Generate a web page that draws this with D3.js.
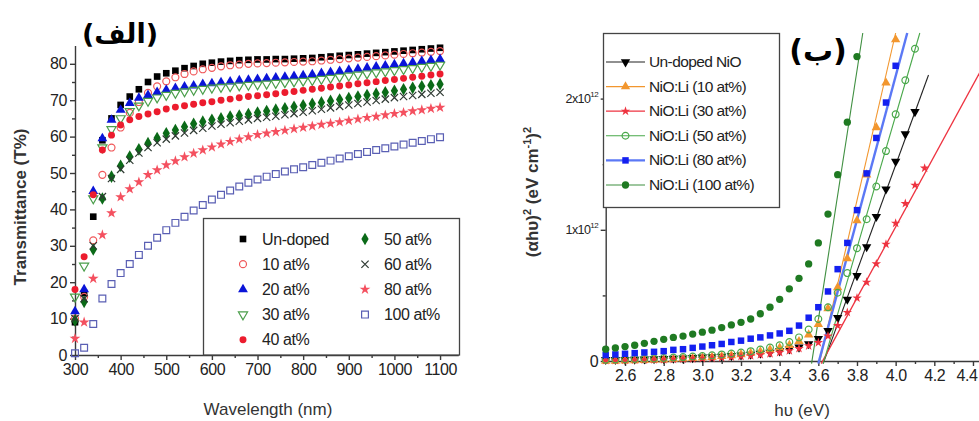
<!DOCTYPE html>
<html>
<head>
<meta charset="utf-8">
<script src="https://cdn.jsdelivr.net/npm/d3@7"></script>
<style>
    body { margin: 0; background: #fff; }
    svg { display: block; font-family: "Liberation Sans", Arial, sans-serif; }
</style>
</head>
<body>
<div id="chart"></div>
<script>
// ---------- panel (الف): transmittance vs wavelength ----------
var wavelength = [300, 320, 340, 360, 380, 400, 420, 440, 460, 480, 500, 520, 540, 560, 580, 600, 620, 640, 660, 680,
    700, 720, 740, 760, 780, 800, 820, 840, 860, 880, 900, 920, 940, 960, 980, 1000, 1020, 1040, 1060, 1080, 1100];
var tUndoped = [9, 17, 38, 59, 65, 68.7, 71, 73, 75, 76.5, 77.4, 78.1, 78.8, 79.4, 80, 80.3, 80.6, 80.8, 81, 81.1,
    81.2, 81.2, 81.3, 81.3, 81.4, 81.5, 81.6, 81.8, 82, 82.2, 82.4, 82.6, 82.8, 83, 83.2, 83.4, 83.6, 83.8, 84, 84.2, 84.4];
var t10 = [10, 16, 31.5, 49.5, 57, 62.5, 66.5, 69.5, 72, 73.8, 75.2, 76.3, 77.2, 77.9, 78.5, 78.9, 79.3, 79.6, 79.8, 80,
    80.1, 80.2, 80.3, 80.4, 80.5, 80.6, 80.7, 80.9, 81.1, 81.3, 81.5, 81.7, 81.9, 82.1, 82.3, 82.5, 82.7, 82.9, 83.1, 83.3, 83.5];
var t20 = [12, 18, 45, 59.5, 64.6, 67.3, 69.2, 70.6, 71.4, 72.2, 72.8, 73.3, 73.7, 74, 74.4, 74.6, 74.9, 75.1, 75.4, 75.6,
    75.8, 76, 76.2, 76.4, 76.6, 76.8, 77.1, 77.4, 77.7, 78, 78.3, 78.6, 78.9, 79.2, 79.5, 79.8, 80.1, 80.4, 80.7, 81, 81.3];
var t30 = [16, 24.5, 43, 57, 62, 65, 67, 68.5, 69.8, 70.7, 71.4, 72, 72.4, 72.8, 73.1, 73.4, 73.6, 73.8, 74, 74.2,
    74.3, 74.5, 74.7, 74.9, 75.1, 75.3, 75.5, 75.8, 76.1, 76.4, 76.7, 77, 77.3, 77.6, 77.9, 78.2, 78.5, 78.8, 79.1, 79.4, 79.7];
var t40 = [18, 27, 44, 56.3, 60.4, 63.2, 64.6, 65.5, 66.2, 66.8, 67.6, 68.1, 68.5, 68.9, 69.3, 69.6, 70, 70.3, 70.7, 71,
    71.2, 71.5, 71.8, 72.1, 72.4, 72.7, 73, 73.3, 73.6, 73.9, 74.2, 74.5, 74.8, 75.1, 75.4, 75.7, 76, 76.3, 76.6, 76.9, 77.2];
var t50 = [9.5, 14.6, 29, 43, 49, 52, 54.5, 56.5, 58.2, 59.6, 60.9, 61.8, 62.7, 63.5, 64.1, 64.6, 65, 65.5, 65.8, 66.2,
    66.6, 67, 67.4, 67.8, 68.2, 68.6, 69, 69.4, 69.8, 70.2, 70.6, 71, 71.4, 71.8, 72.2, 72.6, 73, 73.4, 73.8, 74.1, 74.4];
var t60 = [10, 15.5, 30, 43.5, 48.5, 51, 53.5, 55.5, 57, 58.3, 59.3, 60.2, 61, 61.7, 62.3, 62.9, 63.4, 63.8, 64.2, 64.6,
    65, 65.3, 65.6, 66, 66.3, 66.7, 67.1, 67.5, 67.9, 68.3, 68.7, 69.1, 69.5, 69.9, 70.3, 70.7, 71, 71.3, 71.6, 71.9, 72.2];
var t80 = [4.5, 9, 21, 33, 39, 43.4, 45.6, 47.5, 49.5, 50.8, 52.2, 53.3, 54.4, 55.4, 56.3, 57.1, 57.9, 58.6, 59.3, 59.9,
    60.5, 60.9, 61.3, 61.7, 62.1, 62.5, 62.9, 63.3, 63.6, 64, 64.4, 64.8, 65.2, 65.5, 65.9, 66.3, 66.6, 67, 67.3, 67.7, 68];
var t100 = [0.5, 2, 8.5, 15.5, 19.5, 22.5, 25, 27.5, 30, 32.2, 34.3, 36.3, 38, 39.7, 41.2, 42.7, 44, 45.2, 46.3, 47.3,
    48.2, 49, 49.7, 50.4, 51, 51.6, 52.2, 52.8, 53.4, 54, 54.6, 55.2, 55.8, 56.3, 56.8, 57.3, 57.8, 58.3, 58.8, 59.3, 59.8];
var leftNames = ["Un-doped", "10 at%", "20 at%", "30 at%", "40 at%", "50 at%", "60 at%", "80 at%", "100 at%"];
var leftYTicks = [0, 10, 20, 30, 40, 50, 60, 70, 80];
var leftXTicks = [300, 400, 500, 600, 700, 800, 900, 1000, 1100];

// ---------- panel (ب): Tauc plot, values in units of 10^12 ----------
var photonEnergy = [2.50, 2.55, 2.60, 2.65, 2.70, 2.75, 2.80, 2.85, 2.90, 2.95, 3.00, 3.05, 3.10, 3.15, 3.20, 3.25, 3.30,
    3.35, 3.40, 3.45, 3.50, 3.55, 3.60, 3.65, 3.70, 3.75, 3.80, 3.85, 3.90, 3.95, 4.00, 4.05, 4.10, 4.15];
var aUndoped = [0.01, 0.01, 0.01, 0.012, 0.014, 0.016, 0.018, 0.02, 0.022, 0.025, 0.028, 0.031, 0.035, 0.04, 0.045, 0.05, 0.058,
    0.066, 0.076, 0.09, 0.105, 0.13, 0.17, 0.23, 0.33, 0.47, 0.65, 0.87, 1.1, 1.31, 1.52, 1.73, 1.9];
var aLi10 = [0, 0, 0.002, 0.004, 0.006, 0.008, 0.01, 0.013, 0.016, 0.02, 0.024, 0.029, 0.035, 0.042, 0.05, 0.06, 0.072,
    0.086, 0.1, 0.12, 0.15, 0.2, 0.28, 0.4, 0.56, 0.78, 1.07, 1.42, 1.78, 2.12, 2.45];
var aLi30 = [0.005, 0.005, 0.006, 0.007, 0.008, 0.009, 0.01, 0.012, 0.014, 0.016, 0.019, 0.022, 0.026, 0.03, 0.035, 0.04, 0.047,
    0.055, 0.065, 0.078, 0.095, 0.115, 0.14, 0.19, 0.27, 0.37, 0.48, 0.6, 0.74, 0.89, 1.05, 1.2, 1.34, 1.47];
var aLi50 = [0.01, 0.012, 0.014, 0.016, 0.018, 0.02, 0.023, 0.026, 0.03, 0.034, 0.038, 0.043, 0.05, 0.057, 0.065, 0.075, 0.088,
    0.103, 0.12, 0.145, 0.18, 0.24, 0.32, 0.41, 0.52, 0.67, 0.86, 1.08, 1.33, 1.6, 1.88, 2.14, 2.38];
var aLi80 = [0.045, 0.05, 0.055, 0.06, 0.065, 0.07, 0.075, 0.085, 0.09, 0.1, 0.11, 0.12, 0.13, 0.145, 0.155, 0.17, 0.18,
    0.195, 0.21, 0.23, 0.27, 0.33, 0.41, 0.53, 0.7, 0.9, 1.15, 1.43, 1.7, 1.97, 2.25];
var aLi100 = [0.09, 0.1, 0.11, 0.12, 0.135, 0.15, 0.165, 0.18, 0.19, 0.205, 0.22, 0.235, 0.255, 0.275, 0.295, 0.32, 0.36,
    0.41, 0.47, 0.55, 0.63, 0.74, 0.9, 1.12, 1.42, 1.82, 2.32];
// linear fits (band-gap extrapolation), end points [hv, value]
var fitUndoped = [[3.625, -0.02], [4.17, 2.18]];
var fitLi10 = [[3.605, -0.02], [4.0, 2.5]];
var fitLi30 = [[3.615, -0.02], [4.45, 2.24]];
var fitLi50 = [[3.625, -0.02], [4.125, 2.5]];
var fitLi80 = [[3.6, -0.02], [4.06, 2.5]];
var fitLi100 = [[3.565, -0.02], [3.83, 2.5]];
var rightNames = ["Un-doped NiO", "NiO:Li (10 at%)", "NiO:Li (30 at%)", "NiO:Li (50 at%)", "NiO:Li (80 at%)", "NiO:Li (100 at%)"];
var rightXTicks = [2.6, 2.8, 3.0, 3.2, 3.4, 3.6, 3.8, 4.0, 4.2, 4.4];
var rightYTicks = [0, 1, 2];

var width = 979, height = 421;
var axisColor = "#3a3a3a";

var svg = d3.select("#chart").append("svg")
    .attr("width", width)
    .attr("height", height);

// symbol helpers
var timesType = d3.symbolTimes || d3.symbolCross;
function markerPath(shape, size) {
    var types = {
        square: d3.symbolSquare, circle: d3.symbolCircle, triangle: d3.symbolTriangle,
        triDown: d3.symbolTriangle, diamond: d3.symbolDiamond, star: d3.symbolStar, times: timesType
    };
    return d3.symbol().type(types[shape]).size(size)();
}
function markerTransform(shape, x, y) {
    var r = shape == "triDown" ? 180 : (shape == "times" && timesType === d3.symbolCross ? 45 : 0);
    return "translate(" + x + "," + y + ") rotate(" + r + ")";
}
function styleMarker(sel, s) {
    var stroked = s.open || (s.shape == "times" && timesType !== d3.symbolCross);
    sel.attr("d", markerPath(s.shape, s.size))
        .attr("fill", stroked ? "none" : s.color)
        .attr("stroke", stroked ? s.color : "none")
        .attr("stroke-width", 1.2);
}

// =================== left panel ===================
var leftSeries = [
    { name: leftNames[0], values: tUndoped, shape: "square", color: "#000000", size: 44 },
    { name: leftNames[1], values: t10, shape: "circle", color: "#f0585a", size: 38, open: true },
    { name: leftNames[2], values: t20, shape: "triangle", color: "#0a14d8", size: 42 },
    { name: leftNames[3], values: t30, shape: "triDown", color: "#4b9e4b", size: 36, open: true },
    { name: leftNames[4], values: t40, shape: "circle", color: "#ec1c2e", size: 38 },
    { name: leftNames[5], values: t50, shape: "diamond", color: "#0b6a18", size: 46 },
    { name: leftNames[6], values: t60, shape: "times", color: "#2f3a33", size: 36 },
    { name: leftNames[7], values: t80, shape: "star", color: "#f4505f", size: 36 },
    { name: leftNames[8], values: t100, shape: "square", color: "#5a5fb4", size: 46, open: true }
];

var xL = d3.scaleLinear().domain([300, 1140]).range([75, 458.3]);
var yL = d3.scaleLinear().domain([0, 85]).range([355, 45.6]);

var gL = svg.append("g");

// axes
gL.append("g").attr("transform", "translate(75,0)")
    .call(d3.axisLeft(yL).tickValues(leftYTicks).tickSize(5).tickSizeOuter(0).tickPadding(3));
gL.append("g").attr("transform", "translate(75,0)")
    .call(d3.axisLeft(yL).tickValues(d3.range(5, 85, 10)).tickSize(3).tickFormat(""))
    .select(".domain").remove();
gL.append("g").attr("transform", "translate(0,355)")
    .call(d3.axisBottom(xL).tickValues(leftXTicks).tickSize(5).tickSizeOuter(0).tickPadding(4)
        .tickFormat(d3.format("d")));
gL.append("g").attr("transform", "translate(0,355)")
    .call(d3.axisBottom(xL).tickValues(d3.range(350, 1100, 100)).tickSize(3).tickFormat(""))
    .select(".domain").remove();

// points
leftSeries.forEach(function (s) {
    gL.append("g").selectAll("path")
        .data(s.values.map(function (v, i) { return [wavelength[i], v]; }))
        .enter()
        .append("path")
        .call(styleMarker, s)
        .attr("transform", function (d) { return markerTransform(s.shape, xL(d[0]), yL(d[1])); });
});

// legend
var legL = gL.append("g");
legL.append("rect")
    .attr("x", 203.5).attr("y", 218.5)
    .attr("width", 256).attr("height", 136.5)
    .attr("fill", "#fff").attr("stroke", "#444").attr("stroke-width", 1.3);
leftSeries.forEach(function (s, i) {
    var col = i < 5 ? 0 : 1;
    var row = i < 5 ? i : i - 5;
    var mx = col == 0 ? 243 : 365;
    var my = 239 + row * 25.2;
    legL.append("path").call(styleMarker, s)
        .attr("transform", markerTransform(s.shape, mx, my));
    legL.append("text")
        .attr("x", mx + 19).attr("y", my + 5.5)
        .attr("font-size", 16).attr("letter-spacing", -0.4)
        .attr("fill", "#222")
        .text(s.name);
});

// axis labels and title
gL.append("text")
    .attr("transform", "translate(26,207) rotate(-90)")
    .attr("text-anchor", "middle")
    .attr("font-size", 17).attr("font-weight", "bold").attr("fill", "#333")
    .text("Transmittance (T%)");
gL.append("text")
    .attr("x", 268).attr("y", 415)
    .attr("text-anchor", "middle")
    .attr("font-size", 17).attr("fill", "#333")
    .text("Wavelength (nm)");
gL.append("text")
    .attr("x", 120).attr("y", 43)
    .attr("text-anchor", "middle")
    .attr("font-family", "DejaVu Sans")
    .attr("font-size", 27).attr("font-weight", "bold")
    .text("(الف)");

// =================== right panel ===================
var rightSeries = [
    { name: rightNames[0], values: aUndoped, fit: fitUndoped, shape: "triDown", color: "#000000", line: "#222", lw: 1.1, size: 38 },
    { name: rightNames[1], values: aLi10, fit: fitLi10, shape: "triangle", color: "#f2962e", line: "#f2962e", lw: 1.1, size: 38 },
    { name: rightNames[2], values: aLi30, fit: fitLi30, shape: "star", color: "#ee3340", line: "#ee3340", lw: 1.3, size: 28 },
    { name: rightNames[3], values: aLi50, fit: fitLi50, shape: "circle", color: "#49a84a", line: "#49a84a", lw: 1.1, size: 36, open: true },
    { name: rightNames[4], values: aLi80, fit: fitLi80, shape: "square", color: "#1420f0", line: "#5b78f5", lw: 2.4, size: 42 },
    { name: rightNames[5], values: aLi100, fit: fitLi100, shape: "circle", color: "#1f7a22", line: "#3f8f40", lw: 1.1, size: 42 }
];

var xR = d3.scaleLinear().domain([2.5, 4.5]).range([605.7, 992.3]);
var yR = d3.scaleLinear().domain([0, 2.5]).range([361, 33]);

var gR = svg.append("g");

gR.append("g").attr("transform", "translate(605.7,0)")
    .call(d3.axisLeft(yR).tickValues(rightYTicks).tickSize(5).tickSizeOuter(0).tickFormat(""));
gR.append("g").attr("transform", "translate(605.7,0)")
    .call(d3.axisLeft(yR).tickValues([0.5, 1.5]).tickSize(3).tickFormat(""))
    .select(".domain").remove();
var xAxisR = gR.append("g").attr("transform", "translate(0,361)")
    .call(d3.axisBottom(xR).tickValues(rightXTicks).tickSize(5).tickSizeOuter(0).tickPadding(4)
        .tickFormat(d3.format(".1f")));
gR.append("g").attr("transform", "translate(0,361)")
    .call(d3.axisBottom(xR).tickValues(d3.range(2.5, 4.45, 0.2)).tickSize(3).tickFormat(""))
    .select(".domain").remove();

// y tick labels with superscript exponent
rightYTicks.forEach(function (v) {
    var t = gR.append("text")
        .attr("x", 598).attr("y", yR(v) + (v == 0 ? 6 : 4))
        .attr("text-anchor", "end")
        .attr("fill", "#222")
        .attr("letter-spacing", -0.6);
    if (v == 0) {
        t.attr("font-size", 16).text("0");
    } else {
        t.attr("font-size", 12.5).text(v + "x10");
        t.append("tspan").attr("dy", -6).attr("font-size", 8).text("12");
    }
});

// fit lines under the points
var lineGen = d3.line()
    .x(function (d) { return xR(d[0]); })
    .y(function (d) { return yR(d[1]); });
rightSeries.forEach(function (s) {
    gR.append("path")
        .attr("d", lineGen(s.fit))
        .attr("fill", "none")
        .attr("stroke", s.line)
        .attr("stroke-width", s.lw);
});
rightSeries.forEach(function (s) {
    gR.append("g").selectAll("path")
        .data(s.values.map(function (v, i) { return [photonEnergy[i], v]; }))
        .enter()
        .append("path")
        .call(styleMarker, s)
        .attr("transform", function (d) { return markerTransform(s.shape, xR(d[0]), yR(d[1])); });
});

// legend
var legR = gR.append("g");
legR.append("rect")
    .attr("x", 603.5).attr("y", 33.5)
    .attr("width", 176).attr("height", 174)
    .attr("fill", "#fff").attr("stroke", "#444").attr("stroke-width", 1.3);
rightSeries.forEach(function (s, i) {
    var ly = 62 + i * 24.6;
    legR.append("line")
        .attr("x1", 606).attr("x2", 645).attr("y1", ly).attr("y2", ly)
        .attr("stroke", s.line).attr("stroke-width", s.lw);
    legR.append("path").call(styleMarker, s)
        .attr("transform", markerTransform(s.shape, 625.5, ly));
    legR.append("text")
        .attr("x", 649).attr("y", ly + 5)
        .attr("font-size", 15.5).attr("letter-spacing", -0.6)
        .attr("fill", "#222")
        .text(s.name);
});

// axis labels and title
var yLab = gR.append("text")
    .attr("transform", "translate(538,192) rotate(-90)")
    .attr("text-anchor", "middle")
    .attr("font-size", 17).attr("font-weight", "bold").attr("fill", "#333");
yLab.append("tspan").text("(αhυ)");
yLab.append("tspan").attr("dy", -7).attr("font-size", 11).text("2");
yLab.append("tspan").attr("dy", 7).text(" (eV cm");
yLab.append("tspan").attr("dy", -7).attr("font-size", 11).text("-1");
yLab.append("tspan").attr("dy", 7).text(")");
yLab.append("tspan").attr("dy", -7).attr("font-size", 11).text("2");
gR.append("text")
    .attr("x", 802).attr("y", 416)
    .attr("text-anchor", "middle")
    .attr("font-size", 17).attr("fill", "#333")
    .text("hυ (eV)");
gR.append("text")
    .attr("x", 818).attr("y", 61)
    .attr("text-anchor", "middle")
    .attr("font-family", "DejaVu Sans")
    .attr("font-size", 30).attr("font-weight", "bold")
    .text("(ب)");

// axis styling
svg.selectAll(".domain, .tick line").attr("stroke", axisColor).attr("stroke-width", 1.4);
svg.selectAll(".tick text").attr("font-size", 16).attr("fill", "#222").attr("letter-spacing", -0.4)
    .attr("font-family", "Liberation Sans, Arial, sans-serif");
// the last energy label sits at the picture's right edge: keep it inside
xAxisR.selectAll(".tick text").filter(function (d) { return d > 4.3; })
    .attr("text-anchor", "end").attr("dx", 4);
</script>
</body>
</html>
